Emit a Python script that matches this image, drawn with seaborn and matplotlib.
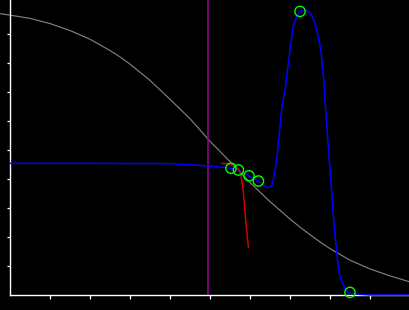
import matplotlib
matplotlib.use("Agg")
import matplotlib.pyplot as plt
import seaborn as sns
import pandas as pd

# gray decreasing curve
gray_x = [-0.25, 0.0, 0.5, 1.0, 1.5, 2.0, 2.5, 2.75, 3.0, 3.25, 3.5, 4.0, 4.5, 5.0,
          5.5, 6.0, 6.5, 7.0, 7.25, 7.5, 7.75, 8.0, 8.5, 9.0, 9.5, 10.0]
gray_y = [9.70, 9.65, 9.54, 9.36, 9.12, 8.82, 8.43, 8.21, 7.96, 7.68, 7.40, 6.75, 6.08, 5.30,
          4.60, 3.88, 3.22, 2.62, 2.34, 2.08, 1.83, 1.60, 1.20, 0.90, 0.66, 0.45]

# blue curve with bump
blue_x = [0.0, 2.0, 4.0, 4.375, 4.75, 5.125, 5.525, 5.7, 5.975, 6.2, 6.325, 6.4, 6.45,
          6.5, 6.55, 6.59, 6.625, 6.667, 6.71, 6.75, 6.79, 6.83, 6.9, 6.96, 7.02, 7.08,
          7.17, 7.25, 7.31, 7.375, 7.44, 7.5, 7.56, 7.625, 7.71, 7.77, 7.81, 7.85, 7.875,
          7.92, 7.96, 8.0, 8.04, 8.08, 8.125, 8.17, 8.21, 8.25, 8.32, 8.375, 8.46, 8.5,
          8.75, 9.0, 10.0]
blue_y = [4.54, 4.54, 4.53, 4.50, 4.47, 4.43, 4.37, 4.31, 4.11, 3.93, 3.79, 3.73, 3.71,
          3.73, 3.80, 4.03, 4.31, 4.66, 5.24, 5.79, 6.38, 6.72, 7.31, 8.0, 8.69, 9.25,
          9.62, 9.77, 9.82, 9.82, 9.79, 9.72, 9.58, 9.38, 8.90, 8.45, 7.86, 7.31, 6.72,
          5.86, 5.07, 4.31, 3.62, 2.80, 2.07, 1.45, 0.98, 0.63, 0.38, 0.22, 0.09, 0.06,
          0.02, 0.0, 0.0]

# red branch
red_x = [5.29, 5.46, 5.6, 5.71, 5.775, 5.83, 5.875, 5.92, 5.96]
red_y = [4.54, 4.52, 4.45, 4.34, 4.14, 3.62, 2.86, 2.17, 1.64]

# green markers
pts_x = [5.525, 5.71, 5.975, 6.21, 7.25, 8.5]
pts_y = [4.37, 4.31, 4.11, 3.93, 9.78, 0.09]

vline_x = 4.95
ticks = [1, 2, 3, 4, 5, 6, 7, 8, 9]

sns.set_theme(style="ticks", rc={
    "figure.facecolor": "black", "axes.facecolor": "black",
    "axes.edgecolor": "white", "xtick.color": "white", "ytick.color": "white",
})

fig = plt.figure(figsize=(4.1, 3.1), dpi=100)
ax = fig.add_axes([0, 0, 1, 1])

sns.lineplot(data=pd.DataFrame({"x": gray_x, "y": gray_y}), x="x", y="y", ax=ax,
             color="#808080", lw=0.85, sort=False, estimator=None, zorder=2)
sns.lineplot(data=pd.DataFrame({"x": blue_x, "y": blue_y}), x="x", y="y", ax=ax,
             color="#0000ff", lw=1.1, sort=False, estimator=None, zorder=3)
sns.lineplot(data=pd.DataFrame({"x": red_x, "y": red_y}), x="x", y="y", ax=ax,
             color="#d00000", lw=1.1, sort=False, estimator=None, zorder=3)
ax.vlines(vline_x, 0, 10.3, color="#990099", lw=1.1, zorder=2)
sns.scatterplot(data=pd.DataFrame({"x": pts_x, "y": pts_y}), x="x", y="y", ax=ax,
                marker="o", s=55, facecolor="none", edgecolor="#00ff00",
                linewidth=1.0, zorder=4)

ax.set_xlim(-0.25, 10.0)
ax.set_ylim(-15 / 29, 295 / 29)
ax.spines["left"].set_position(("data", 0))
ax.spines["bottom"].set_position(("data", 0))
ax.spines["left"].set_bounds(0, 295 / 29)
ax.spines["bottom"].set_bounds(0, 10.0)
for s in ["top", "right"]:
    ax.spines[s].set_visible(False)
for s in ["left", "bottom"]:
    ax.spines[s].set_linewidth(1.0)
ax.set_xticks(ticks)
ax.set_yticks(ticks)
ax.set_xticklabels([])
ax.set_yticklabels([])
ax.tick_params(axis="x", direction="out", length=3, width=0.9)
ax.tick_params(axis="y", direction="out", length=2.3, width=0.9)
ax.set_xlabel("")
ax.set_ylabel("")

fig.savefig("out.png", dpi=100, facecolor="black")
